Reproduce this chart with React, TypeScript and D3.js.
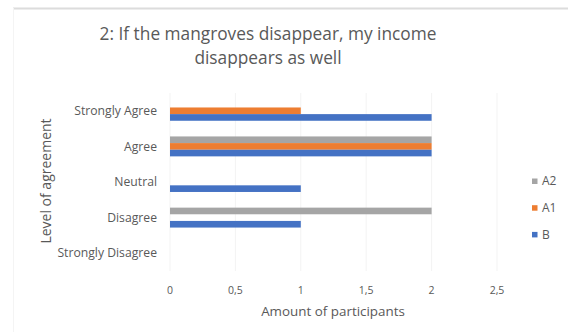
import React from "react";
import * as d3 from "d3";

const categories = ["Strongly Agree", "Agree", "Neutral", "Disagree", "Strongly Disagree"];
const seriesNames = ["A2", "A1", "B"];
const valuesA2 = [0, 2, 0, 2, 0];
const valuesA1 = [1, 2, 0, 0, 0];
const valuesB = [2, 2, 1, 1, 0];
const xTicks = [0, 0.5, 1, 1.5, 2, 2.5];
const colors: Record<string, string> = { A2: "#A5A5A5", A1: "#ED7D31", B: "#4472C4" };

const W = 568;
const H = 332;
const FONT = "'Open Sans', sans-serif";
const TXT = "#595959";

export default function App() {
  const seriesValues: Record<string, number[]> = { A2: valuesA2, A1: valuesA1, B: valuesB };
  const x = d3.scaleLinear().domain([0, 2.5]).range([170, 497]);
  const y = d3
    .scaleBand<string>()
    .domain(categories)
    .range([93, 271])
    .paddingInner(0.44)
    .paddingOuter(0.22);
  const inner = d3.scaleBand<string>().domain(seriesNames).range([0, y.bandwidth()]);
  const fmt = (v: number) => String(v).replace(".", ",");

  return (
    <svg
      width={W}
      height={H}
      style={{ position: "absolute", left: 0, top: 0, background: "#fff" }}
      fontFamily={FONT}
    >
      <rect x={0} y={0} width={W} height={H} fill="#fff" />
      <line x1={13} x2={W} y1={8.5} y2={8.5} stroke="#dcdcdc" strokeWidth={2} />
      <line x1={13.5} x2={13.5} y1={8} y2={H} stroke="#f4f4f4" strokeWidth={1} />

      <text x={268} y={40} textAnchor="middle" fontSize={17.3} fill={TXT}>
        2: If the mangroves disappear, my income
      </text>
      <text x={268} y={64} textAnchor="middle" fontSize={17.3} fill={TXT}>
        disappears as well
      </text>

      {xTicks.map((t) => (
        <line
          key={"g" + t}
          x1={x(t)}
          x2={x(t)}
          y1={93}
          y2={271}
          stroke="#f3f3f3"
          strokeWidth={1}
        />
      ))}

      {categories.map((c, i) => (
        <g key={c}>
          {seriesNames.map((s) => {
            const v = seriesValues[s][i];
            return (
              <rect
                key={s}
                x={x(0)}
                y={(y(c) as number) + (inner(s) as number)}
                width={x(v) - x(0)}
                height={inner.bandwidth()}
                fill={colors[s]}
              />
            );
          })}
          <text
            x={157}
            y={(y(c) as number) + y.bandwidth() / 2}
            dy="0.35em"
            textAnchor="end"
            fontSize={12.2}
            fill={TXT}
          >
            {c}
          </text>
        </g>
      ))}

      {xTicks.map((t) => (
        <text key={"t" + t} x={x(t)} y={290} dy="0.35em" textAnchor="middle" fontSize={10.5} fill={TXT}>
          {fmt(t)}
        </text>
      ))}

      <text x={333} y={311} dy="0.35em" textAnchor="middle" fontSize={13.4} fill={TXT}>
        Amount of participants
      </text>
      <text
        transform={`translate(46,181) rotate(-90)`}
        dy="0.35em"
        textAnchor="middle"
        fontSize={14}
        fill={TXT}
      >
        Level of agreement
      </text>

      {seriesNames.map((s, i) => (
        <g key={"l" + s} transform={`translate(532,${181 + i * 26.7})`}>
          <rect x={0} y={-2.5} width={5.5} height={5.5} fill={colors[s]} />
          <text x={10} y={0} dy="0.35em" fontSize={12} fill={TXT}>
            {s}
          </text>
        </g>
      ))}
    </svg>
  );
}
